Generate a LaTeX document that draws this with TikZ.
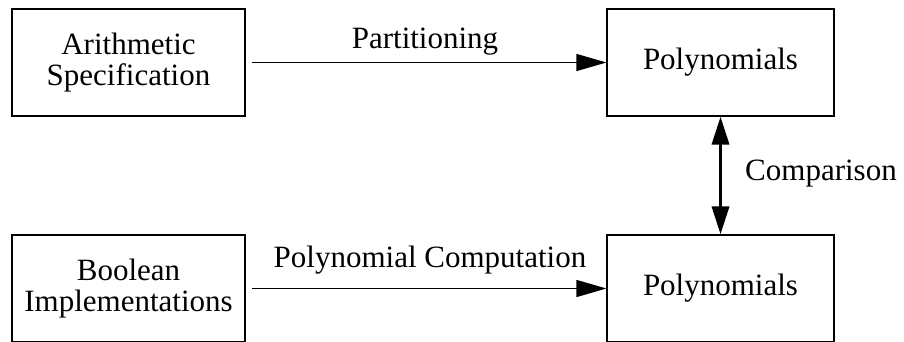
\documentclass[tikz,border=0pt]{standalone}
\usepackage{fontspec}
\setmainfont{Liberation Serif}
\usetikzlibrary{arrows.meta}

\begin{document}
\begin{tikzpicture}[x=1pt,y=1pt,
  block/.style={draw,line width=1.2pt,align=center,minimum width=233pt,minimum height=107pt,
    font=\fontsize{31}{30.5}\selectfont},
  lbl/.style={font=\fontsize{31}{30.5}\selectfont,inner sep=0pt},
  flow/.style={line width=1.2pt,-{Triangle[length=30pt,width=17pt]}},
  both/.style={line width=3.5pt,{Triangle[length=28pt,width=17pt]}-{Triangle[length=28pt,width=17pt]}}]
\clip (0,0) rectangle (904,341);
\node (spec) at (128.5,278.5) [block] {Arithmetic\\Specification};
\node (polyA) at (720.5,278.5) [block,minimum width=227pt] {Polynomials};
\node (impl) at (128.5,52.5) [block] {Boolean\\Implementations};
\node (polyB) at (720.5,52.5) [block,minimum width=227pt] {Polynomials};
\draw[flow,shorten <=6pt] (spec) -- (polyA);
\draw[flow,shorten <=6pt] (impl) -- (polyB);
\draw[both] (polyA) -- (polyB);
\node (part) at (425,293) [lbl,anchor=base] {Partitioning};
\node (comp) at (430,74) [lbl,anchor=base] {Polynomial Computation};
\node (cmp) at (745,161) [lbl,anchor=base west] {Comparison};
\end{tikzpicture}
\end{document}
